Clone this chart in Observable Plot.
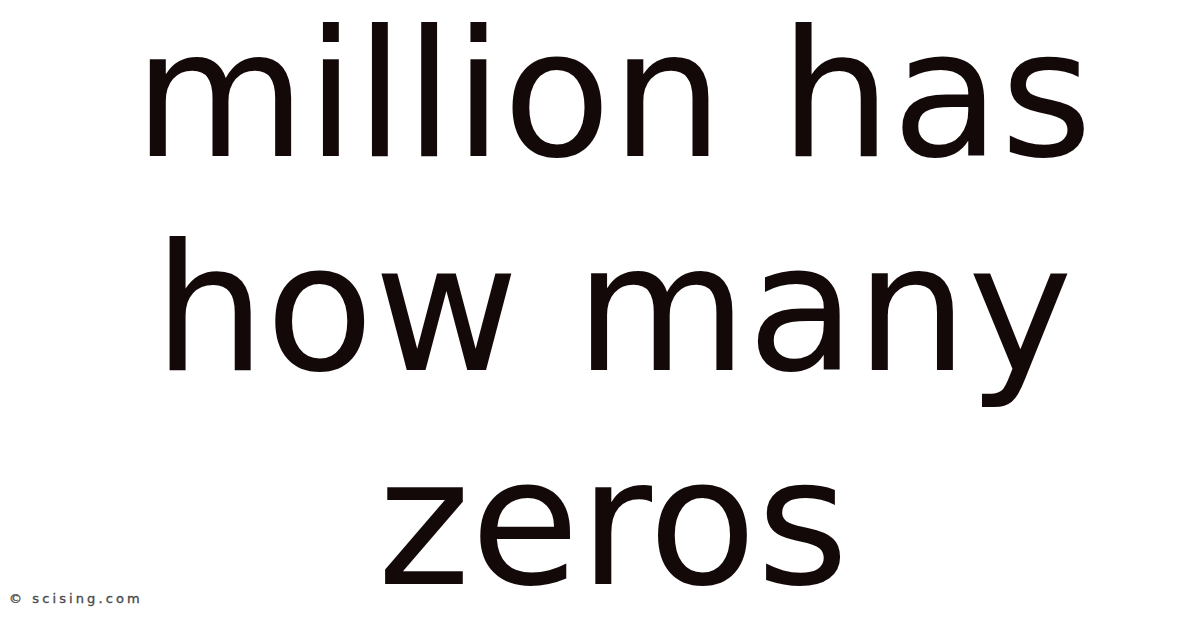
<!DOCTYPE html>
<html>
<head>
<meta charset="utf-8">
<script src="https://cdn.jsdelivr.net/npm/d3@7"></script>
<script src="https://cdn.jsdelivr.net/npm/@observablehq/plot@0.6"></script>
<style>
  html, body { margin: 0; padding: 0; background: #ffffff; }
  #chart { position: relative; width: 1200px; height: 628px; overflow: hidden; }
  #credit { position: absolute; left: 9px; top: 591px; font-family: "DejaVu Sans", sans-serif;
            font-size: 13px; letter-spacing: 3.1px; color: #4a4a4a; -webkit-text-stroke: 0.35px #4a4a4a; }
</style>
</head>
<body>
<div id="chart"></div>
<script>
const lines = ["million has", "how many", "zeros"];
const lineIndex = [0, 1, 2];
const credit = "© scising.com";

const fs = 177;
const data = lines.map((t, i) => ({text: t, row: lineIndex[i]}));

const plot = Plot.plot({
  width: 1200,
  height: 628,
  margin: 0,
  x: {domain: [0, 1], range: [0, 1200], axis: null},
  y: {domain: [0, 2], range: [155, 583], axis: null},
  marks: [
    Plot.text(data, {
      x: () => 0.5105,
      y: "row",
      text: "text",
      fontSize: fs,
      fontFamily: "DejaVu Sans",
      fill: "#140909",
      textAnchor: "middle",
      lineAnchor: "bottom"
    })
  ]
});
plot.style.background = "#ffffff";
plot.style.overflow = "visible";
document.getElementById("chart").appendChild(plot);
const c = document.createElement("div");
c.id = "credit";
c.textContent = credit;
document.getElementById("chart").appendChild(c);
</script>
</body>
</html>
